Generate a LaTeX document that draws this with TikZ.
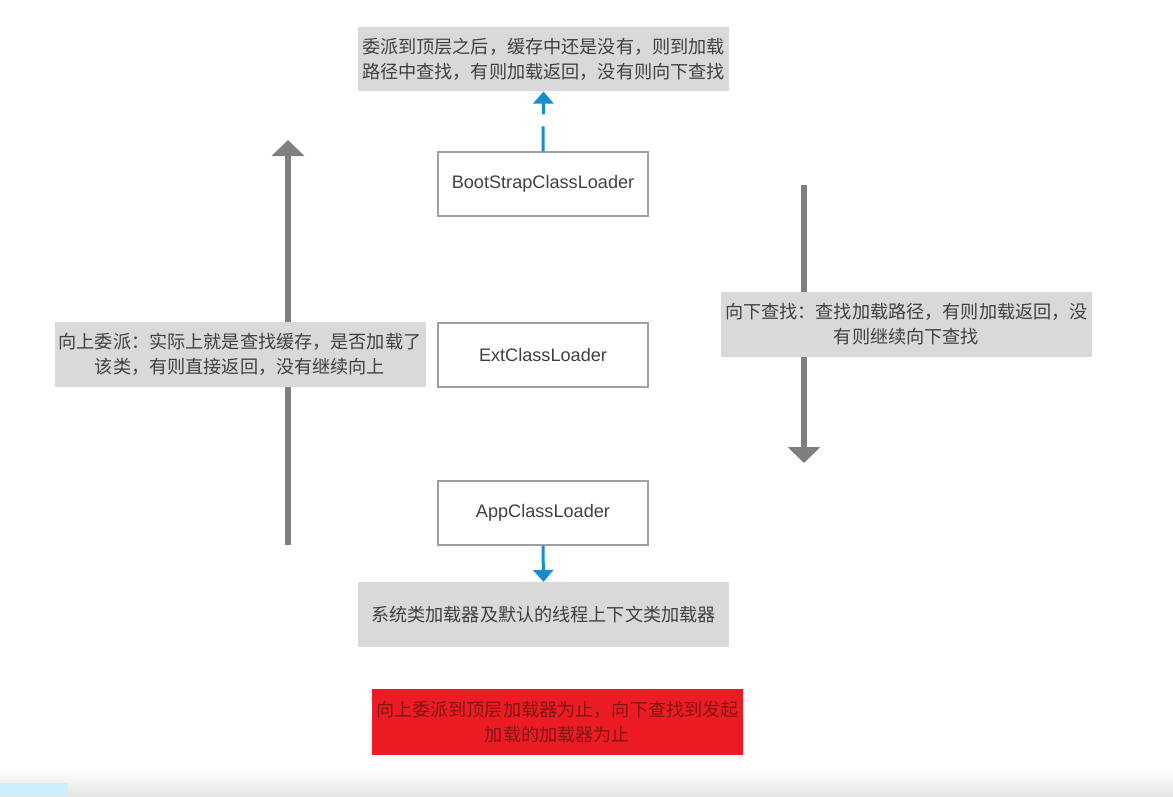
\documentclass[tikz,border=0pt]{standalone}
\usepackage{fontspec}
\setmainfont{Liberation Sans}
\newfontfamily\cjk{Noto Sans CJK SC}
\usetikzlibrary{arrows.meta}
\definecolor{boxgray}{HTML}{D9D9D9}
\definecolor{txtgray}{HTML}{404040}
\definecolor{bordgray}{HTML}{A0A0A0}
\definecolor{arrgray}{HTML}{7F7F7F}
\definecolor{flowblue}{HTML}{168ECE}
\definecolor{alertred}{HTML}{ED1C24}
\definecolor{alerttxt}{HTML}{7F1515}
\tikzset{
  notebox/.style={fill=boxgray, draw=none, inner sep=0pt, align=center, text=txtgray,
    minimum width=278.25pt, minimum height=48.5pt,
    font=\cjk\fontsize{13.6pt}{18.75pt}\selectfont},
  loaderbox/.style={fill=white, draw=bordgray, line width=0.9pt, inner sep=0pt,
    minimum width=157.5pt, minimum height=48pt, text=txtgray,
    font=\fontsize{13.6pt}{16pt}\selectfont},
  alertbox/.style={fill=alertred, draw=none, inner sep=0pt, align=center, text=alerttxt,
    minimum width=278.25pt, minimum height=49.5pt,
    font=\cjk\fontsize{13.6pt}{18.75pt}\selectfont},
  bigarrow/.style={draw=arrgray, line width=4.5pt, -{Triangle[width=24pt,length=12pt]}},
  bluearrow/.style={draw=flowblue, line width=2.25pt, -{Triangle[width=15pt,length=9pt]}},
}
\begin{document}
\begin{tikzpicture}[x=0.75pt,y=-0.75pt]
\useasboundingbox (0,0) rectangle (1173,796);
% screenshot bottom band
\shade[top color=white, bottom color=black!10, draw=none] (0,768) rectangle (1173,796);
\fill[cyan!20!white] (0,783) rectangle (68,796);

% big gray arrows (behind the note boxes)
\coordinate (upstart) at (288,545);
\coordinate (upend) at (288,140);
\coordinate (downstart) at (804,185);
\coordinate (downend) at (804,463);
\draw[bigarrow] (upstart) -- (upend);
\draw[bigarrow] (downstart) -- (downend);

% nodes
\node[notebox] (top) at (543.5,59) {委派到顶层之后，缓存中还是没有，则到加载\\路径中查找，有则加载返回，没有则向下查找};
\node[loaderbox] (boot) at (543,184) {BootStrapClassLoader};
\node[loaderbox] (ext) at (543,355) {ExtClassLoader};
\node[loaderbox] (app) at (543,513) {AppClassLoader};
\node[notebox] (sys) at (543.5,614.5) {系统类加载器及默认的线程上下文类加载器};
\node[alertbox] (alert) at (557.5,722) {向上委派到顶层加载器为止，向下查找到发起\\加载的加载器为止};
\node[notebox] (uplabel) at (240,354.5) {向上委派：实际上就是查找缓存，是否加载了\\该类，有则直接返回，没有继续向上};
\node[notebox] (downlabel) at (906.5,324.5) {向下查找：查找加载路径，有则加载返回，没\\有则继续向下查找};

% blue connectors
\draw[bluearrow, dash pattern=on 18.75pt off 9pt on 40pt] (boot.north) -- (top.south);
\draw[bluearrow] (app.south) -- (sys.north);
\end{tikzpicture}
\end{document}
